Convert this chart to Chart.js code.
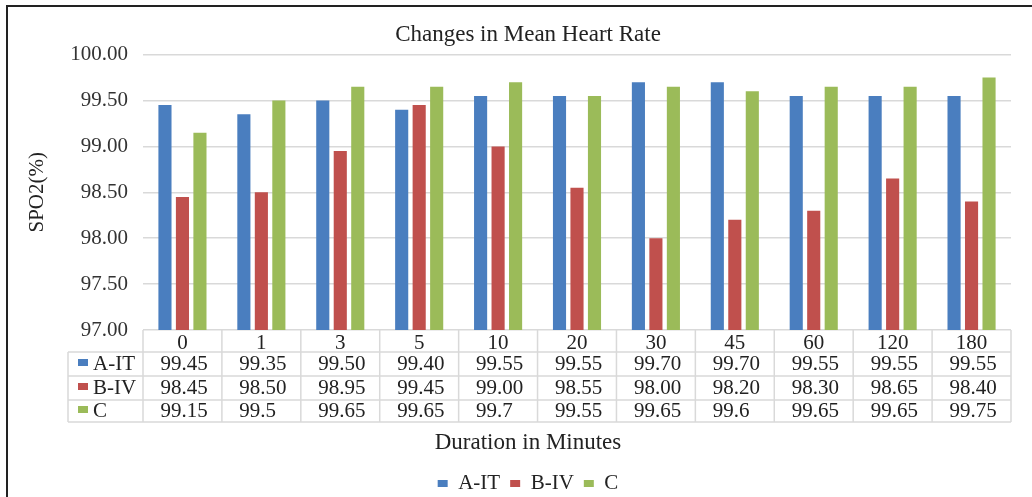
<!DOCTYPE html>
<html>
<head>
<meta charset="utf-8">
<script src="https://cdn.jsdelivr.net/npm/chart.js@4.4.1/dist/chart.umd.min.js"></script>
<style>
  html, body { margin: 0; padding: 0; background: #fff; }
  #wrap { position: relative; width: 1032px; height: 497px; overflow: hidden; }
  #frame { position: absolute; left: 6px; top: 5px; right: 0; bottom: 0;
           border-top: 2px solid #222; border-left: 2px solid #222; pointer-events: none; }
</style>
</head>
<body>
<div id="wrap">
  <canvas id="chart" width="1032" height="497"></canvas>
  <div id="frame"></div>
</div>
<script>
// --- data ---
const minutes = ["0", "1", "3", "5", "10", "20", "30", "45", "60", "120", "180"];
const aIT = [99.45, 99.35, 99.50, 99.40, 99.55, 99.55, 99.70, 99.70, 99.55, 99.55, 99.55];
const bIV = [98.45, 98.50, 98.95, 99.45, 99.00, 98.55, 98.00, 98.20, 98.30, 98.65, 98.40];
const cGrp = [99.15, 99.5, 99.65, 99.65, 99.7, 99.55, 99.65, 99.6, 99.65, 99.65, 99.75];
const yTicks = [97.00, 97.50, 98.00, 98.50, 99.00, 99.50, 100.00];

const FONT = "'Liberation Serif', 'Times New Roman', serif";
const TEXT = "#222";
const GRID = "#d9d9d9";
const series = [
  { label: "A-IT", data: aIT, color: "#4a7ebf", fmt: v => v.toFixed(2) },
  { label: "B-IV", data: bIV, color: "#c0504d", fmt: v => v.toFixed(2) },
  { label: "C", data: cGrp, color: "#9bbb59", fmt: v => String(v) }
];

// --- data table under the plot, laid out on the x scale ---
const rowH = [22, 24, 24, 22];
const tablePlugin = {
  id: "dataTable",
  afterDraw(chart) {
    const ctx = chart.ctx;
    const x = chart.scales.x;
    const area = chart.chartArea;
    const half = (x.getPixelForValue(1) - x.getPixelForValue(0)) / 2;
    const hdrLeft = area.left - 75;
    const tops = [area.bottom];
    rowH.forEach(h => tops.push(tops[tops.length - 1] + h));
    const bottom = tops[tops.length - 1];

    ctx.save();
    ctx.strokeStyle = GRID;
    ctx.lineWidth = 1.5;
    ctx.beginPath();
    for (let i = 0; i <= minutes.length; i++) {
      const xb = i < minutes.length ? x.getPixelForValue(i) - half : x.getPixelForValue(i - 1) + half;
      ctx.moveTo(xb, area.bottom);
      ctx.lineTo(xb, bottom);
    }
    ctx.moveTo(hdrLeft, tops[1]);
    ctx.lineTo(hdrLeft, bottom);
    for (let r = 1; r < tops.length; r++) {
      ctx.moveTo(hdrLeft, tops[r]);
      ctx.lineTo(x.getPixelForValue(minutes.length - 1) + half, tops[r]);
    }
    ctx.stroke();

    ctx.font = "21px " + FONT;
    ctx.textBaseline = "middle";
    ctx.fillStyle = TEXT;
    series.forEach((s, k) => {
      const yc = (tops[k + 1] + tops[k + 2]) / 2;
      ctx.fillStyle = s.color;
      ctx.fillRect(hdrLeft + 10, yc - 5, 10, 7);
      ctx.fillStyle = TEXT;
      ctx.textAlign = "left";
      ctx.fillText(s.label, hdrLeft + 25, yc);
      s.data.forEach((v, i) => {
        ctx.fillText(s.fmt(v), x.getPixelForValue(i) - 22, yc);
      });
    });

    // axis title below the table
    const lg = chart.legend;
    ctx.font = "23px " + FONT;
    ctx.textAlign = "center";
    ctx.fillText("Duration in Minutes", (lg.left + lg.right) / 2, bottom + 21);
    ctx.restore();
  }
};

const ctx = document.getElementById("chart").getContext("2d");
const chart = new Chart(ctx, {
  type: "bar",
  data: {
    labels: minutes,
    datasets: series.map(s => ({
      label: s.label,
      data: s.data,
      backgroundColor: s.color,
      borderWidth: 0,
      categoryPercentage: 0.665,
      barPercentage: 0.75
    }))
  },
  plugins: [tablePlugin],
  options: {
    responsive: false,
    animation: false,
    layout: { padding: { left: 45, right: 21, top: 0, bottom: -7 } },
    plugins: {
      title: {
        display: true,
        text: "Changes in Mean Heart Rate",
        color: TEXT,
        font: { family: FONT, size: 23, weight: "normal" },
        padding: { top: 21, bottom: 6 }
      },
      legend: {
        position: "bottom",
        labels: {
          color: TEXT,
          boxWidth: 10,
          boxHeight: 7,
          padding: 10,
          font: { family: FONT, size: 21 }
        }
      },
      tooltip: { enabled: false }
    },
    scales: {
      x: {
        grid: { display: false, drawTicks: false },
        border: { display: false },
        ticks: { color: TEXT, padding: 1, font: { family: FONT, size: 21 } },
        afterFit: s => { s.height = 133; }
      },
      y: {
        min: yTicks[0],
        max: yTicks[yTicks.length - 1],
        afterBuildTicks: s => { s.ticks = yTicks.map(v => ({ value: v })); },
        grid: { color: GRID, lineWidth: 1.5, drawTicks: false },
        border: { display: false },
        ticks: {
          color: "#333",
          padding: 15,
          font: { family: FONT, size: 21 },
          callback: v => Number(v).toFixed(2)
        },
        title: {
          display: true,
          text: "SPO2(%)",
          color: TEXT,
          font: { family: FONT, size: 21 },
          padding: { top: -20, bottom: 0 }
        },
        afterFit: s => { s.width = 98; }
      }
    }
  }
});
</script>
</body>
</html>
